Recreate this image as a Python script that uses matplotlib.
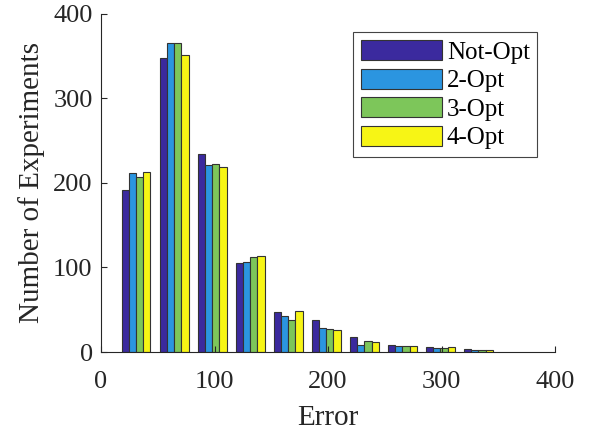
import matplotlib
matplotlib.use("Agg")
import matplotlib.pyplot as plt
import numpy as np

# bin centers of the error histogram
centers = [31, 64.5, 98, 131.5, 165, 198.5, 232, 265.5, 299, 332.5]

# experiment counts per bin
not_opt = [192, 348, 234, 105, 47, 38, 18, 8.5, 5.5, 3.5]
opt2 = [212, 365, 221, 107, 43, 28, 8, 7.5, 4.3, 2.3]
opt3 = [207, 365, 222, 112, 38, 27, 13, 7.5, 4.7, 2.3]
opt4 = [213, 351, 219, 114, 48, 26, 11.5, 7, 5.5, 2.3]

series = [not_opt, opt2, opt3, opt4]
names = ["Not-Opt", "2-Opt", "3-Opt", "4-Opt"]
colors = ["#3b2a9e", "#2b95e0", "#7dc65a", "#f7f515"]

plt.rcParams['font.family'] = ['Liberation Serif', 'DejaVu Serif']

fig = plt.figure(figsize=(5.92, 4.33), dpi=100)
ax = fig.add_axes([0.1706, 0.187, 0.767, 0.781])

bw = 6.3
x = np.array(centers)
for i, (vals, nm, c) in enumerate(zip(series, names, colors)):
    ax.bar(x + (i - 1.5) * bw, vals, width=bw, color=c, edgecolor="#333333",
           linewidth=0.8, label=nm)

ax.set_xlim(0, 400)
ax.set_ylim(0, 400)
ax.set_xticks([0, 100, 200, 300, 400])
ax.set_yticks([0, 100, 200, 300, 400])
ax.spines['top'].set_visible(False)
ax.spines['right'].set_visible(False)
for s in ['left', 'bottom']:
    ax.spines[s].set_color("#262626")
    ax.spines[s].set_linewidth(0.8)
ax.tick_params(direction='in', length=4, width=0.8, labelsize=19, colors="#262626", pad=6)
ax.tick_params(axis='x', pad=14)
ax.set_xlabel("Error", fontsize=21, color="#262626", labelpad=8)
ax.set_ylabel("Number of Experiments", fontsize=21, color="#262626", labelpad=6)

leg = ax.legend(loc='upper right', bbox_to_anchor=(0.961, 0.945), fontsize=18,
                handlelength=3.25, handleheight=0.85, handletextpad=0.2,
                labelspacing=0.2, borderpad=0.3, borderaxespad=0.0,
                fancybox=False, edgecolor="#444444", framealpha=1)
leg.get_frame().set_linewidth(0.8)

fig.savefig("out.png", dpi=100)
